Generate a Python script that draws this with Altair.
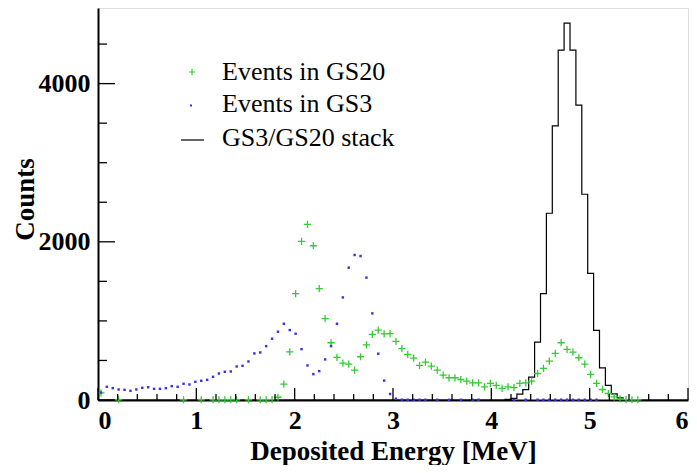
import altair as alt
import pandas as pd

# ---------------- data (100 bins of 0.06 MeV from 0 to 6 MeV) ----------------
bin_width = 0.06
n_bins = 100

gs20_counts = [
    91, None, None, 3, None, None, None, None, None, None,        # 0-9
    None, None, None, None, 3, None, None, 3, None, 3,            # 10-19
    3, 3, 3, 3, None, 3, None, 3, 3, 5,                           # 20-29
    35, 200, 608, 1344, 2006, 2220, 1950, 1407, 1030, 724,        # 30-39
    538, 466, 453, 377, 547, 698, 829, 884, 836, 840,             # 40-49
    740, 650, 576, 530, 439, 479, 428, 378, 314, 281,             # 50-59
    281, 259, 238, 217, 217, 167, 209, 184, 146, 167,             # 60-69
    157, 209, 217, 238, 335, 399, 492, 589, 724, 639,             # 70-79
    605, 534, 453, 323, 209, 133, 82, 40, 15, 6,                  # 80-89
    3, 3, None, None, None, None, None, None, None, None,         # 90-99
]

gs3_counts = [
    95, 167, 150, 133, 129, 116, 133, 154, 162, 141,              # 0-9
    141, 150, 175, 167, 205, 196, 230, 243, 255, 293,             # 10-19
    335, 357, 361, 424, 432, 487, 589, 601, 681, 775,             # 20-29
    863, 964, 884, 838, 643, 437, 327, 365, 513, 681,             # 30-39
    964, 1297, 1673, 1833, 1820, 1547, 1095, 585, 245, 76,        # 40-49
    17, 4, 3, 3, 3, 3, None, 3, None, 3,                          # 50-59
    None, 3, None, 3, 3, None, None, None, None, None,            # 60-69
    3, None, 3, None, 3, 3, 3, 3, 3, 3,                           # 70-79
    3, 3, 3, 3, 3, None, None, None, None, None,                  # 80-89
    None, None, None, None, None, None, None, None, None, None,   # 90-99
]

stack_counts = [
    0, 0, 0, 0, 0, 0, 0, 0, 0, 0,
    0, 0, 0, 0, 0, 0, 0, 0, 0, 0,
    0, 0, 0, 0, 0, 0, 0, 0, 0, 0,
    0, 0, 0, 0, 0, 0, 0, 0, 0, 0,
    0, 0, 0, 0, 0, 0, 0, 0, 0, 0,
    0, 0, 0, 0, 0, 0, 0, 0, 0, 0,
    0, 0, 0, 0, 0, 0, 0, 0, 0, 8,
    20, 75, 130, 290, 732, 1344, 2361, 3466, 4424, 4766,
    4424, 3728, 2601, 1601, 880, 407, 184, 78, 28, 0,
    0, 0, 0, 0, 0, 0, 0, 0, 0, 0,
]

x_labels = [0, 1, 2, 3, 4, 5, 6]
y_labels = [0, 2000, 4000]
x_minor = [round(0.2 * k, 1) for k in range(31) if k % 5 != 0]
y_minor = [500, 1000, 1500, 2500, 3000, 3500, 4500]

legend_labels = ["Events in GS20", "Events in GS3", "GS3/GS20 stack"]

# ---------------- tables ----------------
centers = [bin_width * (i + 0.5) for i in range(n_bins)]
df_gs20 = pd.DataFrame({"E": centers, "c": gs20_counts}).dropna()
df_gs3 = pd.DataFrame({"E": centers, "c": gs3_counts}).dropna()
edges = [bin_width * i for i in range(n_bins + 1)]
df_stack = pd.DataFrame({"E": edges, "c": stack_counts + [stack_counts[-1]]})

W, H = 590, 392
YMAX = 4956
xs = alt.Scale(domain=[0, 6], nice=False, zero=False)
ys = alt.Scale(domain=[0, YMAX], nice=False)

FONT = "Liberation Serif"
PLUS = "M-1,0L1,0M0,-1L0,1"
GREEN = "#33cc33"
BLUE = "#3535e6"

x_axis = alt.Axis(
    values=x_labels, format="d", ticks=False, grid=False,
    domainColor="black", domainWidth=2,
    labelFont=FONT, labelFontWeight="bold", labelFontSize=26, labelColor="black",
    labelPadding=7, labelFlush=True,
    title="Deposited Energy [MeV]", titleFont=FONT, titleFontWeight="bold",
    titleFontSize=27, titleColor="black",
    titleY=59, titleBaseline="alphabetic",
)
y_axis = alt.Axis(
    values=y_labels, format="d", ticks=False, grid=False,
    domainColor="black", domainWidth=2,
    labelFont=FONT, labelFontWeight="bold", labelFontSize=26, labelColor="black",
    labelPadding=8, labelFlush=False,
    title="Counts", titleFont=FONT, titleFontWeight="bold",
    titleFontSize=27, titleColor="black",
    titleX=-73, titleY=191, titleBaseline="middle",
)

stack = alt.Chart(df_stack).mark_line(
    interpolate="step-after", color="black", strokeWidth=1.2
).encode(
    x=alt.X("E:Q", scale=xs, axis=x_axis),
    y=alt.Y("c:Q", scale=ys, axis=y_axis),
)

green = alt.Chart(df_gs20).mark_point(
    shape=PLUS, filled=False, color=GREEN, size=52, strokeWidth=1.3, opacity=1
).encode(
    x=alt.X("E:Q", scale=xs),
    y=alt.Y("c:Q", scale=ys),
)

blue = alt.Chart(df_gs3).mark_point(
    shape="square", filled=True, color=BLUE, size=6, opacity=1
).encode(
    x=alt.X("E:Q", scale=xs),
    y=alt.Y("c:Q", scale=ys),
)

# inward ticks (ROOT style)
xt_major = alt.Chart(pd.DataFrame({"v": x_labels})).mark_rule(color="black", strokeWidth=1.3).encode(
    x=alt.X("v:Q", scale=xs), y=alt.value(H), y2=alt.value(H - 12))
xt_minor = alt.Chart(pd.DataFrame({"v": x_minor})).mark_rule(color="black", strokeWidth=1.3).encode(
    x=alt.X("v:Q", scale=xs), y=alt.value(H), y2=alt.value(H - 6))
yt_major = alt.Chart(pd.DataFrame({"v": y_labels})).mark_rule(color="black", strokeWidth=1.3).encode(
    y=alt.Y("v:Q", scale=ys), x=alt.value(0), x2=alt.value(17))
yt_minor = alt.Chart(pd.DataFrame({"v": y_minor})).mark_rule(color="black", strokeWidth=1.3).encode(
    y=alt.Y("v:Q", scale=ys), x=alt.value(0), x2=alt.value(9))

# legend (drawn by hand, ROOT TLegend style)
leg_df = pd.DataFrame({"label": legend_labels})
leg_plus = alt.Chart(leg_df.iloc[[0]]).mark_point(
    shape=PLUS, filled=False, color=GREEN, size=40, strokeWidth=1.1, opacity=1
).encode(x=alt.value(94), y=alt.value(64))
leg_dot = alt.Chart(leg_df.iloc[[1]]).mark_point(
    shape="square", filled=True, color=BLUE, size=4, opacity=1
).encode(x=alt.value(93), y=alt.value(97.5))
leg_line = alt.Chart(leg_df.iloc[[2]]).mark_rule(color="black", strokeWidth=1.2).encode(
    x=alt.value(83), x2=alt.value(106), y=alt.value(132))
leg_texts = []
for k, yy in zip(range(3), [63.5, 95.5, 130]):
    leg_texts.append(
        alt.Chart(leg_df.iloc[[k]]).mark_text(
            align="left", baseline="middle", font=FONT, fontSize=26, color="black"
        ).encode(x=alt.value(124), y=alt.value(yy), text="label:N")
    )

chart = alt.layer(
    stack, green, blue, xt_major, xt_minor, yt_major, yt_minor,
    leg_plus, leg_dot, leg_line, *leg_texts
).properties(
    width=W, height=H,
    padding={"left": 90, "top": 0, "right": 1, "bottom": 65},
    autosize=alt.AutoSizeParams(type="none"),
).configure_view(
    stroke="black", strokeWidth=1
).configure(background="white")

chart.save("out.html", embed_options={"renderer": "svg", "actions": False})
